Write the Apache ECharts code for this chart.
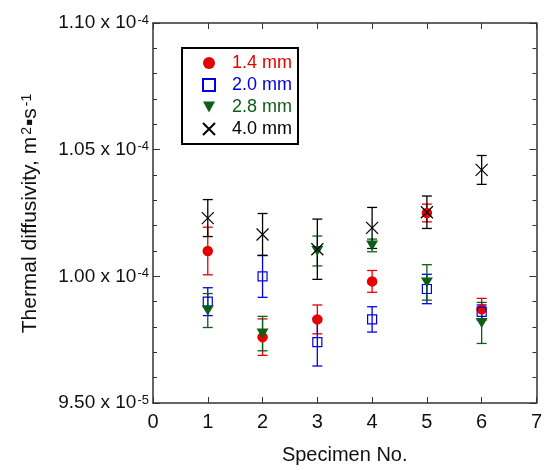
<!DOCTYPE html>
<html>
<head>
<meta charset="utf-8">
<script src="https://cdn.jsdelivr.net/npm/echarts@6/dist/echarts.min.js"></script>
<style>
  html, body { margin: 0; padding: 0; background: #fff; }
  #chart { width: 545px; height: 470px; }
</style>
</head>
<body>
<div id="chart"></div>
<script>
// specimen numbers
var specimens = [1, 2, 3, 4, 5, 6];
// thermal diffusivity, in units of 1e-6 m^2/s, and error bar half-lengths
var d14 = [101.0, 97.6, 98.3, 99.8, 102.5, 98.7];
var e14 = [0.94, 0.72, 0.57, 0.43, 0.35, 0.43];
var d20 = [99.0, 100.0, 97.4, 98.3, 99.5, 98.6];
var e20 = [0.55, 0.83, 0.94, 0.5, 0.58, 0.27];
var d28 = [98.65, 97.74, 101.0, 101.22, 99.76, 98.16];
var e28 = [0.67, 0.68, 0.59, 0.25, 0.7, 0.81];
var d40 = [102.3, 101.65, 101.07, 101.91, 102.53, 104.2];
var e40 = [0.73, 0.83, 1.19, 0.81, 0.64, 0.57];
var names = ["1.4 mm", "2.0 mm", "2.8 mm", "4.0 mm"];
var yTicks = [95, 100, 105, 110];

var colors = ["#e60000", "#0000e6", "#0d5e17", "#000000"];
var FONT = "Liberation Sans, Arial, sans-serif";

function pairs(ys) {
  return specimens.map(function (x, i) { return [x, ys[i]]; });
}
function triples(ys, es) {
  return specimens.map(function (x, i) { return [x, ys[i], es[i]]; });
}

function yLabel(v) {
  var real = v * 1e-6;
  var exp = Math.floor(Math.log10(real) + 1e-9);
  var m = real / Math.pow(10, exp);
  return m.toFixed(2) + " x 10{sup|" + exp + "}";
}

function errorBar(color) {
  return function (params, api) {
    var x = api.value(0), y = api.value(1), e = api.value(2);
    var top = api.coord([x, y + e]);
    var bot = api.coord([x, y - e]);
    var w = 5;
    var style = { stroke: color, lineWidth: 1.3 };
    return {
      type: "group",
      children: [
        { type: "line", shape: { x1: top[0], y1: top[1], x2: bot[0], y2: bot[1] }, style: style },
        { type: "line", shape: { x1: top[0] - w, y1: top[1], x2: top[0] + w, y2: top[1] }, style: style },
        { type: "line", shape: { x1: bot[0] - w, y1: bot[1], x2: bot[0] + w, y2: bot[1] }, style: style }
      ]
    };
  };
}

var labelSup = { fontSize: 13, fontFamily: FONT, color: "#111", verticalAlign: "top", lineHeight: 12, padding: [0, 0, 0, 1] };
var nameSup = { fontSize: 14, fontFamily: FONT, color: "#111", verticalAlign: "top", lineHeight: 13, padding: [0, 1, 0, 2] };

var axisLineStyle = { color: "#333", width: 1.5 };

var chart = echarts.init(document.getElementById("chart"));

var option = {
  animation: false,
  textStyle: { fontFamily: FONT },
  grid: { left: 153, right: 7, top: 23, bottom: 63 },
  legend: {
    orient: "vertical",
    left: 182,
    top: 48,
    padding: [6, 6, 6, 20],
    itemGap: 4,
    itemWidth: 12,
    itemHeight: 12,
    borderColor: "#000",
    borderWidth: 2,
    textStyle: { fontSize: 18, fontFamily: FONT, padding: [0, 0, 0, 12] },
    data: names.map(function (n, i) {
      return { name: n, textStyle: { color: colors[i] } };
    })
  },
  xAxis: [
    {
      type: "value",
      min: 0, max: 7, interval: 1,
      position: "bottom",
      axisLine: { onZero: false, lineStyle: axisLineStyle },
      axisTick: { inside: true, length: 6, lineStyle: { color: "#333" } },
      axisLabel: { fontSize: 20, color: "#111", margin: 9 },
      splitLine: { show: false },
      name: "Specimen No.",
      nameLocation: "middle",
      nameGap: 42,
      nameTextStyle: { fontSize: 20, color: "#111" }
    },
    {
      type: "value",
      min: 0, max: 7, interval: 1,
      position: "top",
      axisLine: { onZero: false, lineStyle: axisLineStyle },
      axisTick: { inside: true, length: 6, lineStyle: { color: "#333" } },
      axisLabel: { show: false },
      splitLine: { show: false }
    }
  ],
  yAxis: [
    {
      type: "value",
      min: yTicks[0], max: yTicks[yTicks.length - 1], interval: 5,
      position: "left",
      axisLine: { onZero: false, lineStyle: axisLineStyle },
      axisTick: { inside: true, length: 7, lineStyle: { color: "#333" } },
      minorTick: { show: true, splitNumber: 5, length: 4, lineStyle: { color: "#333" } },
      axisLabel: {
        fontSize: 19, color: "#111", margin: 4,
        formatter: yLabel,
        rich: { sup: labelSup }
      },
      splitLine: { show: false },
      name: "Thermal diffusivity, m{sup|2}\u25aas{sup|-1}",
      nameLocation: "middle",
      nameGap: 112,
      nameRotate: 90,
      nameTextStyle: { fontSize: 21, color: "#111", rich: { sup: nameSup } }
    },
    {
      type: "value",
      min: yTicks[0], max: yTicks[yTicks.length - 1], interval: 5,
      position: "right",
      axisLine: { onZero: false, lineStyle: axisLineStyle },
      axisTick: { inside: true, length: 7, lineStyle: { color: "#333" } },
      minorTick: { show: true, splitNumber: 5, length: 4, lineStyle: { color: "#333" } },
      axisLabel: { show: false },
      splitLine: { show: false }
    }
  ],
  series: [
    { type: "custom", name: "err14", renderItem: errorBar(colors[0]), data: triples(d14, e14), encode: { x: 0, y: [1] }, z: 1 },
    { type: "custom", name: "err20", renderItem: errorBar(colors[1]), data: triples(d20, e20), encode: { x: 0, y: [1] }, z: 1 },
    { type: "custom", name: "err28", renderItem: errorBar(colors[2]), data: triples(d28, e28), encode: { x: 0, y: [1] }, z: 1 },
    { type: "custom", name: "err40", renderItem: errorBar(colors[3]), data: triples(d40, e40), encode: { x: 0, y: [1] }, z: 1 },
    {
      type: "scatter", name: names[0], data: pairs(d14),
      symbol: "circle", symbolSize: 10.5,
      itemStyle: { color: colors[0], opacity: 1 }, z: 3
    },
    {
      type: "scatter", name: names[1], data: pairs(d20),
      symbol: "rect", symbolSize: 9,
      itemStyle: { color: "rgba(255,255,255,0)", borderColor: colors[1], borderWidth: 1.2, opacity: 1 }, z: 3
    },
    {
      type: "scatter", name: names[2], data: pairs(d28),
      symbol: "path://M0,0 L10,0 L5,9 Z", symbolSize: [12, 10],
      itemStyle: { color: colors[2], opacity: 1 }, z: 3
    },
    {
      type: "scatter", name: names[3], data: pairs(d40),
      symbol: "path://M0,0 L10,10 M10,0 L0,10", symbolSize: 12,
      itemStyle: { color: "rgba(0,0,0,0)", borderColor: colors[3], borderWidth: 1.2, opacity: 1 }, z: 4
    }
  ]
};

chart.setOption(option);
</script>
</body>
</html>
